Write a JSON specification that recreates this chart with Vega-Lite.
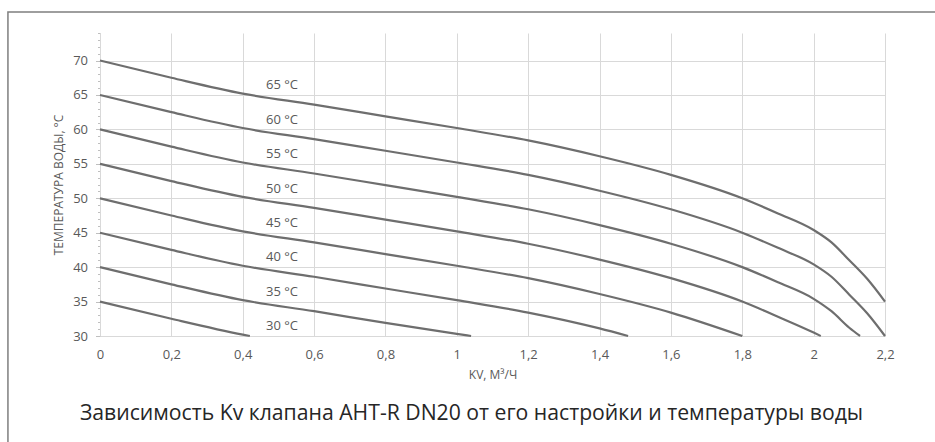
{
  "$schema": "https://vega.github.io/schema/vega-lite/v6.json",
  "width": 785,
  "height": 303,
  "autosize": {"type": "none"},
  "padding": {"left": 100, "top": 33, "right": 50, "bottom": 106},
  "background": "white",
  "config": {"view": {"stroke": null}, "font": "Open Sans"},
  "title": {
    "text": "Зависимость Kv клапана AHT-R DN20 от его настройки и температуры воды",
    "orient": "bottom",
    "anchor": "middle",
    "frame": "group",
    "offset": -49,
    "dx": -21,
    "font": "Open Sans",
    "fontSize": 21.2,
    "fontWeight": "normal",
    "color": "#262626"
  },
  "datasets": {
    "curves": [
      {"s": "65", "kv": 0, "t": 70}, {"s": "65", "kv": 0.2, "t": 67.5}, {"s": "65", "kv": 0.4, "t": 65.2}, {"s": "65", "kv": 0.6, "t": 63.6}, {"s": "65", "kv": 0.8, "t": 61.9}, {"s": "65", "kv": 1.0, "t": 60.2}, {"s": "65", "kv": 1.2, "t": 58.4}, {"s": "65", "kv": 1.4, "t": 56.1}, {"s": "65", "kv": 1.6, "t": 53.4}, {"s": "65", "kv": 1.8, "t": 50.0}, {"s": "65", "kv": 1.9, "t": 47.8}, {"s": "65", "kv": 2.0, "t": 45.4}, {"s": "65", "kv": 2.05, "t": 43.6}, {"s": "65", "kv": 2.1, "t": 41.0}, {"s": "65", "kv": 2.15, "t": 38.3}, {"s": "65", "kv": 2.2, "t": 35.0},
      {"s": "60", "kv": 0, "t": 65}, {"s": "60", "kv": 0.2, "t": 62.5}, {"s": "60", "kv": 0.4, "t": 60.2}, {"s": "60", "kv": 0.6, "t": 58.6}, {"s": "60", "kv": 0.8, "t": 56.9}, {"s": "60", "kv": 1.0, "t": 55.2}, {"s": "60", "kv": 1.2, "t": 53.4}, {"s": "60", "kv": 1.4, "t": 51.1}, {"s": "60", "kv": 1.6, "t": 48.4}, {"s": "60", "kv": 1.8, "t": 45.0}, {"s": "60", "kv": 1.9, "t": 42.8}, {"s": "60", "kv": 2.0, "t": 40.4}, {"s": "60", "kv": 2.05, "t": 38.6}, {"s": "60", "kv": 2.1, "t": 36.0}, {"s": "60", "kv": 2.15, "t": 33.3}, {"s": "60", "kv": 2.2, "t": 30.0},
      {"s": "55", "kv": 0, "t": 60}, {"s": "55", "kv": 0.2, "t": 57.5}, {"s": "55", "kv": 0.4, "t": 55.2}, {"s": "55", "kv": 0.6, "t": 53.6}, {"s": "55", "kv": 0.8, "t": 51.9}, {"s": "55", "kv": 1.0, "t": 50.2}, {"s": "55", "kv": 1.2, "t": 48.4}, {"s": "55", "kv": 1.4, "t": 46.1}, {"s": "55", "kv": 1.6, "t": 43.4}, {"s": "55", "kv": 1.8, "t": 40.0}, {"s": "55", "kv": 1.9, "t": 37.8}, {"s": "55", "kv": 2.0, "t": 35.4}, {"s": "55", "kv": 2.05, "t": 33.6}, {"s": "55", "kv": 2.1, "t": 31.2}, {"s": "55", "kv": 2.13, "t": 30.0},
      {"s": "50", "kv": 0, "t": 55}, {"s": "50", "kv": 0.2, "t": 52.5}, {"s": "50", "kv": 0.4, "t": 50.2}, {"s": "50", "kv": 0.6, "t": 48.6}, {"s": "50", "kv": 0.8, "t": 46.9}, {"s": "50", "kv": 1.0, "t": 45.2}, {"s": "50", "kv": 1.2, "t": 43.4}, {"s": "50", "kv": 1.4, "t": 41.1}, {"s": "50", "kv": 1.6, "t": 38.4}, {"s": "50", "kv": 1.8, "t": 35.0}, {"s": "50", "kv": 1.9, "t": 32.8}, {"s": "50", "kv": 2.0, "t": 30.5}, {"s": "50", "kv": 2.02, "t": 30.0},
      {"s": "45", "kv": 0, "t": 50}, {"s": "45", "kv": 0.2, "t": 47.5}, {"s": "45", "kv": 0.4, "t": 45.2}, {"s": "45", "kv": 0.6, "t": 43.6}, {"s": "45", "kv": 0.8, "t": 41.9}, {"s": "45", "kv": 1.0, "t": 40.2}, {"s": "45", "kv": 1.2, "t": 38.4}, {"s": "45", "kv": 1.4, "t": 36.1}, {"s": "45", "kv": 1.6, "t": 33.4}, {"s": "45", "kv": 1.8, "t": 30.0},
      {"s": "40", "kv": 0, "t": 45}, {"s": "40", "kv": 0.2, "t": 42.5}, {"s": "40", "kv": 0.4, "t": 40.2}, {"s": "40", "kv": 0.6, "t": 38.6}, {"s": "40", "kv": 0.8, "t": 36.9}, {"s": "40", "kv": 1.0, "t": 35.2}, {"s": "40", "kv": 1.2, "t": 33.4}, {"s": "40", "kv": 1.4, "t": 31.1}, {"s": "40", "kv": 1.48, "t": 30.0},
      {"s": "35", "kv": 0, "t": 40}, {"s": "35", "kv": 0.2, "t": 37.5}, {"s": "35", "kv": 0.4, "t": 35.2}, {"s": "35", "kv": 0.6, "t": 33.6}, {"s": "35", "kv": 0.8, "t": 31.9}, {"s": "35", "kv": 1.0, "t": 30.3}, {"s": "35", "kv": 1.04, "t": 30.0},
      {"s": "30", "kv": 0, "t": 35}, {"s": "30", "kv": 0.2, "t": 32.5}, {"s": "30", "kv": 0.4, "t": 30.2}, {"s": "30", "kv": 0.42, "t": 30.0}
    ],
    "labels": [
      {"label": "65 °C", "kv": 0.51, "t": 66.4},
      {"label": "60 °C", "kv": 0.51, "t": 61.4},
      {"label": "55 °C", "kv": 0.51, "t": 56.4},
      {"label": "50 °C", "kv": 0.51, "t": 51.4},
      {"label": "45 °C", "kv": 0.51, "t": 46.4},
      {"label": "40 °C", "kv": 0.51, "t": 41.4},
      {"label": "35 °C", "kv": 0.51, "t": 36.4},
      {"label": "30 °C", "kv": 0.51, "t": 31.4}
    ]
  },
  "layer": [
    {
      "data": {"values": [{}]},
      "mark": {"type": "rect", "fill": "transparent", "stroke": "#7f7f7f", "strokeWidth": 1.5, "clip": false},
      "encoding": {
        "x": {"datum": -0.258, "type": "quantitative", "scale": {"domain": [0, 2.2], "nice": false, "zero": false}},
        "x2": {"datum": 2.6},
        "y": {"datum": 77.05, "type": "quantitative", "scale": {"domain": [30, 74], "nice": false, "zero": false}},
        "y2": {"datum": 13.26}
      }
    },
    {
      "data": {"name": "curves"},
      "mark": {"type": "line", "interpolate": "monotone", "color": "#6e6e6e", "strokeWidth": 2.2},
      "encoding": {
        "x": {
          "field": "kv",
          "type": "quantitative",
          "scale": {"domain": [0, 2.2], "nice": false, "zero": false},
          "axis": {
            "title": "KV, М³/Ч",
            "values": [0, 0.2, 0.4, 0.6, 0.8, 1, 1.2, 1.4, 1.6, 1.8, 2, 2.2],
            "tickCount": 50,
            "labelExpr": "replace(format(datum.value, '~g'), '.', ',')",
            "ticks": false,
            "domainColor": "#d9d9d9",
            "grid": true,
            "gridColor": "#d9d9d9",
            "gridWidth": 1,
            "labelFont": "Open Sans",
            "labelFontSize": 13,
            "labelColor": "#595959",
            "labelPadding": 12,
            "labelFlush": false,
            "labelOverlap": false,
            "titleFont": "Open Sans",
            "titleFontSize": 12,
            "titleFontWeight": "normal",
            "titleColor": "#595959",
            "titlePadding": 8
          }
        },
        "y": {
          "field": "t",
          "type": "quantitative",
          "scale": {"domain": [30, 74], "nice": false, "zero": false},
          "axis": {
            "title": "ТЕМПЕРАТУРА ВОДЫ, °С",
            "values": [30, 31, 32, 33, 34, 35, 36, 37, 38, 39, 40, 41, 42, 43, 44, 45, 46, 47, 48, 49, 50, 51, 52, 53, 54, 55, 56, 57, 58, 59, 60, 61, 62, 63, 64, 65, 66, 67, 68, 69, 70, 71, 72, 73, 74],
            "tickCount": 100,
            "labelExpr": "abs(datum.value - 5 * round(datum.value / 5)) < 0.01 ? format(datum.value, 'd') : ''",
            "labelOverlap": false,
            "labelFlush": false,
            "domainColor": "#d9d9d9",
            "tickColor": "#bfbfbf",
            "tickSize": {"condition": {"test": "abs(datum.value - 5 * round(datum.value / 5)) < 0.01", "value": 4.5}, "value": 2.5},
            "grid": true,
            "gridColor": "#d9d9d9",
            "gridOpacity": {"condition": {"test": "abs(datum.value - 5 * round(datum.value / 5)) < 0.01 && datum.value < 72", "value": 1}, "value": 0},
            "labelFont": "Open Sans",
            "labelFontSize": 13,
            "labelColor": "#595959",
            "labelPadding": 8,
            "titleFont": "Open Sans",
            "titleFontSize": 12,
            "titleFontWeight": "normal",
            "titleColor": "#595959",
            "titlePadding": 7
          }
        },
        "detail": {"field": "s", "type": "nominal"}
      }
    },
    {
      "data": {"name": "labels"},
      "mark": {"type": "text", "font": "Open Sans", "fontSize": 13, "color": "#595959", "align": "center", "baseline": "middle"},
      "encoding": {
        "x": {"field": "kv", "type": "quantitative"},
        "y": {"field": "t", "type": "quantitative"},
        "text": {"field": "label"}
      }
    }
  ]
}
